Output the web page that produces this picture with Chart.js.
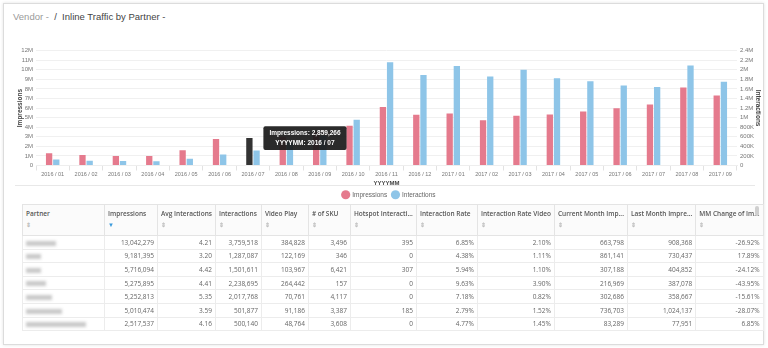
<!DOCTYPE html>
<html>
<head>
<meta charset="utf-8">
<script src="https://cdn.jsdelivr.net/npm/chart.js@4.4.0/dist/chart.umd.min.js"></script>
<style>
  body { margin: 0; width: 768px; height: 348px; overflow: hidden; background: #fff; font-family: "Liberation Sans", Arial, sans-serif; }
  .card { position: absolute; left: 3px; top: 3px; width: 759px; height: 340px; border: 1px solid #dcdcdc; box-shadow: 0 0 3px rgba(0,0,0,0.12); }
  .title { position: absolute; left: 13px; top: 11px; font-size: 9.5px; color: #444; }
  .title .v { color: #9a9a9a; }
  #wrap { position: absolute; left: 16px; top: 44px; width: 746px; height: 164px; }
  .sep { position: absolute; left: 15px; top: 185px; width: 740px; height: 1px; background: #e8e8e8; }
  table { position: absolute; left: 22px; top: 204px; border-collapse: collapse; table-layout: fixed; font-family: "Open Sans", sans-serif; font-size: 6.5px; color: #666; }
  th { height: 26px; border: 1px solid #e4e4e4; background: #fbfbfb; text-align: left; vertical-align: top; font-weight: 600; color: #555; padding: 4px 3px 0 3px; white-space: nowrap; overflow: hidden; }
  th .s { display: block; color: #bbb; font-size: 6px; margin-top: 3px; }
  th .s.on { color: #3b9bdc; }
  td { height: 12.6px; border: 1px solid #ececec; text-align: right; padding: 0 3px; white-space: nowrap; }
  td.p { text-align: left; }
  td.p span { display: inline-block; height: 5px; background: #c9c9c9; filter: blur(1.5px); vertical-align: middle; }
  .scroll { position: absolute; left: 755px; top: 206px; width: 4px; height: 10px; border-radius: 2px; background: #cfcfcf; }
</style>
</head>
<body>
<div class="card"></div>
<div class="title"><span class="v">Vendor -</span>&nbsp; / &nbsp;Inline Traffic by Partner -</div>
<div id="wrap"><canvas id="chart"></canvas></div>
<div class="sep"></div>
<table id="tbl"></table>
<div class="scroll"></div>
<script>
const months = ['2016 / 01', '2016 / 02', '2016 / 03', '2016 / 04', '2016 / 05', '2016 / 06', '2016 / 07',
  '2016 / 08', '2016 / 09', '2016 / 10', '2016 / 11', '2016 / 12', '2017 / 01', '2017 / 02', '2017 / 03',
  '2017 / 04', '2017 / 05', '2017 / 06', '2017 / 07', '2017 / 08', '2017 / 09'];
const impressions = [1280000, 1100000, 1000000, 1000000, 1600000, 2780000, 2859266,
  3000000, 3500000, 4140000, 6120000, 5290000, 5430000, 4730000, 5200000,
  5320000, 5640000, 5980000, 6370000, 8140000, 7300000];
const interactions = [125000, 98000, 95000, 88000, 140000, 230000, 314000,
  480000, 620000, 954000, 2156000, 1890000, 2080000, 1860000, 2000000,
  1820000, 1760000, 1670000, 1640000, 2090000, 1750000];

// table
const columns = ['Partner', 'Impressions', 'Avg Interactions', 'Interactions', 'Video Play', '# of SKU',
  'Hotspot Interacti...', 'Interaction Rate', 'Interaction Rate Video', 'Current Month Imp...',
  'Last Month Impre...', 'MM Change of Im...'];
const colWidths = [82, 53, 57, 46, 47, 42, 66, 61, 75, 72, 64, 65];
const partnerBlur = [30, 15, 15, 20, 26, 36, 60];
const rows = [
  ['13,042,279', '4.21', '3,759,518', '384,828', '3,496', '395', '6.85%', '2.10%', '663,798', '908,368', '-26.92%'],
  ['9,181,395', '3.20', '1,287,087', '122,169', '346', '0', '4.38%', '1.11%', '861,141', '730,437', '17.89%'],
  ['5,716,094', '4.42', '1,501,611', '103,967', '6,421', '307', '5.94%', '1.10%', '307,188', '404,852', '-24.12%'],
  ['5,275,895', '4.41', '2,238,695', '264,442', '157', '0', '9.63%', '3.90%', '216,969', '387,078', '-43.95%'],
  ['5,252,813', '5.35', '2,017,768', '70,761', '4,117', '0', '7.18%', '0.82%', '302,686', '358,667', '-15.61%'],
  ['5,010,474', '3.59', '501,877', '91,186', '3,387', '185', '2.79%', '1.52%', '736,703', '1,024,137', '-28.07%'],
  ['2,517,537', '4.16', '500,140', '48,764', '3,608', '0', '4.77%', '1.45%', '83,289', '77,951', '6.85%']
];

let html = '<colgroup>' + colWidths.map(w => '<col style="width:' + w + 'px">').join('') + '</colgroup><tr>';
columns.forEach((c, i) => {
  const icon = i === 1 ? '<span class="s on">&#9660;</span>' : '<span class="s">&#8661;</span>';
  html += '<th>' + c + icon + '</th>';
});
html += '</tr>';
rows.forEach((r, i) => {
  html += '<tr><td class="p"><span style="width:' + partnerBlur[i] + 'px"></span></td>' + r.map(v => '<td>' + v + '</td>').join('') + '</tr>';
});
document.getElementById('tbl').innerHTML = html;

// chart
const font = 'Liberation Sans';
const chart = new Chart(document.getElementById('chart'), {
  type: 'bar',
  data: {
    labels: months,
    datasets: [{
      label: 'Impressions',
      data: impressions,
      yAxisID: 'y',
      backgroundColor: '#e57a8d',
      hoverBackgroundColor: '#333333',
      categoryPercentage: 0.43,
      barPercentage: 0.88
    }, {
      label: 'Interactions',
      data: interactions,
      yAxisID: 'y1',
      backgroundColor: '#8ec5e8',
      hoverBackgroundColor: '#8ec5e8',
      categoryPercentage: 0.43,
      barPercentage: 0.88
    }]
  },
  options: {
    responsive: true,
    maintainAspectRatio: false,
    animation: false,
    events: [],
    layout: { padding: { top: 5 } },
    plugins: {
      legend: {
        position: 'bottom',
        labels: {
          usePointStyle: true,
          pointStyle: 'circle',
          boxWidth: 7,
          boxHeight: 7,
          padding: 5,
          color: '#666',
          font: { family: font, size: 6.5 }
        }
      },
      tooltip: {
        backgroundColor: 'rgba(25,25,25,0.92)',
        displayColors: false,
        bodyColor: '#fff',
        bodyAlign: 'center',
        bodyFont: { family: font, size: 6.5, weight: 'bold' },
        bodySpacing: 2,
        padding: { x: 6, y: 3 },
        cornerRadius: 2,
        caretSize: 0,
        caretPadding: 14,
        xAlign: 'left',
        yAlign: 'center',
        callbacks: {
          title: () => '',
          label: ctx => ['Impressions: ' + ctx.raw.toLocaleString('en-US'), 'YYYYMM: ' + ctx.label]
        }
      }
    },
    scales: {
      x: {
        offset: true,
        grid: { offset: true, drawOnChartArea: false, tickLength: 5, color: '#e2e2e2' },
        border: { color: '#eeeeee' },
        ticks: { maxRotation: 0, autoSkip: false, color: '#777', font: { family: font, size: 5.5 }, padding: 1 },
        title: { display: true, text: 'YYYYMM', color: '#444', font: { family: font, size: 6, weight: 'bold' }, padding: 0 },
        afterFit: s => { s.height = 21; }
      },
      y: {
        position: 'left',
        min: 0,
        max: 12000000,
        ticks: {
          stepSize: 1000000,
          autoSkip: false,
          color: '#777',
          padding: 3,
          font: { family: font, size: 6 },
          callback: v => v === 0 ? '0' : (v / 1000000) + 'M'
        },
        grid: { color: '#f0f0f0', tickLength: 0 },
        border: { display: false },
        title: { display: true, text: 'Impressions', color: '#444', font: { family: font, size: 6.5, weight: 'bold' }, padding: 0 },
        afterFit: s => { s.width = 20; }
      },
      y1: {
        position: 'right',
        min: 0,
        max: 2400000,
        ticks: {
          stepSize: 200000,
          autoSkip: false,
          color: '#777',
          padding: 3,
          font: { family: font, size: 6 },
          callback: v => v === 0 ? '0' : (v >= 1000000 ? (v / 1000000) + 'M' : (v / 1000) + 'K')
        },
        grid: { drawOnChartArea: false, tickLength: 0 },
        border: { display: false },
        title: { display: true, text: 'Interactions', color: '#444', font: { family: font, size: 6.5, weight: 'bold' }, padding: 0 },
        afterFit: s => { s.width = 25; }
      }
    }
  }
});

const active = [{ datasetIndex: 0, index: 6 }];
chart.setActiveElements(active);
chart.tooltip.setActiveElements(active, { x: 0, y: 0 });
chart.update('none');
</script>
</body>
</html>
